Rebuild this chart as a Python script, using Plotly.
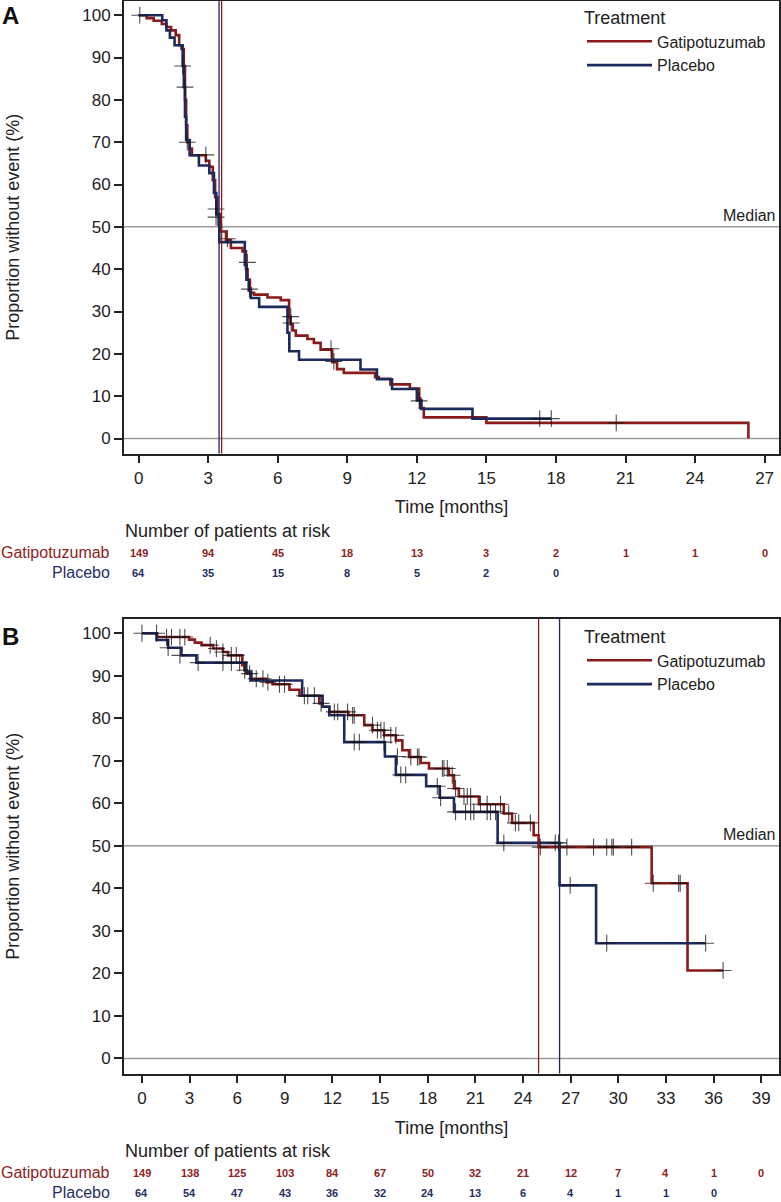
import plotly.graph_objects as go

W, H = 781, 1202
FONT = "Liberation Sans, Arial, Helvetica, sans-serif"
RED = "#8b1a1a"
NAVY = "#1c2a5c"
RED_TXT = "#8e2222"
NAVY_TXT = "#1f2f63"
GRID = "#9a9a9a"

# ---------------- Panel A ----------------
a_gat_t = [0, 0.35, 0.65, 1.0, 1.2, 1.4, 1.6, 1.75, 1.85, 1.95, 2.0, 2.05, 2.1, 2.2, 2.3,
           2.9, 3.05, 3.2, 3.3, 3.4, 3.5, 3.55, 3.77, 3.98, 4.48, 4.63, 4.7, 4.8, 4.84, 4.98,
           5.56, 6.13, 6.49, 6.55, 6.65, 6.78, 7.28, 7.56, 7.85, 8.35, 8.56, 8.85, 10.2, 10.36,
           10.86, 11.7, 12.1, 12.15, 12.3, 15.0, 26.3]
a_gat_s = [100, 99.3, 98.7, 97.9, 97.2, 96.4, 95.3, 92.9, 92.0, 88.0, 80.0, 74.0, 70.0, 68.5, 66.9,
           65.6, 64.2, 61.0, 57.0, 53.0, 50.5, 48.9, 46.9, 45.0, 44.2, 40.0, 37.5, 35.5, 34.4, 34.0,
           33.3, 32.7, 28.5, 27.0, 25.5, 24.3, 23.5, 22.6, 21.0, 18.0, 16.4, 15.5, 14.5, 14.1,
           12.8, 11.8, 9.5, 7.2, 5.0, 3.7, 0.0]
a_pla_t = [0, 1.02, 1.2, 1.35, 1.55, 1.9, 1.95, 2.0, 2.05, 2.2, 2.6, 3.05, 3.25, 3.35, 3.45, 3.48,
           4.58, 4.65, 4.75, 4.84, 5.2, 6.42, 6.5, 6.92, 9.57, 10.28, 10.93, 12.0, 12.2, 14.4]
a_pla_s = [100, 98.8, 96.4, 94.7, 92.9, 88.0, 83.0, 76.0, 70.5, 66.9, 64.5, 62.7, 58.0, 53.0, 50.5, 46.4,
           41.0, 37.5, 35.0, 33.2, 31.1, 25.0, 20.6, 18.6, 16.3, 14.0, 11.7, 9.0, 7.0, 4.7]
a_pla_end = 17.8
a_gat_cens_t = [0.05, 2.9, 3.83, 4.69, 4.78, 6.56, 6.58, 8.3, 8.42, 12.1, 20.6]
a_gat_cens_s = [100, 67.0, 47.2, 41.6, 35.3, 28.8, 27.3, 21.2, 18.2, 8.9, 3.7]
a_pla_cens_t = [1.9, 2.0, 2.1, 3.34, 3.34, 17.3, 17.8]
a_pla_cens_s = [88.0, 83.0, 70.0, 54.2, 52.3, 4.7, 4.7]
a_median_gat = 3.58
a_median_pla = 3.47
a_ticks = [0, 3, 6, 9, 12, 15, 18, 21, 24, 27]
a_risk_gat = [149, 94, 45, 18, 13, 3, 2, 1, 1, 0]
a_risk_pla = [64, 35, 15, 8, 5, 2, 0]

# ---------------- Panel B ----------------
b_gat_t = [0, 0.96, 2.97, 3.33, 3.75, 4.48, 5.10, 5.42, 6.32, 6.45, 6.6, 6.88, 7.83, 8.24, 9.29,
           9.92, 11.17, 11.38, 11.8, 13.0, 14.0, 14.52, 15.25, 15.99, 16.4, 16.82, 17.56, 18.08,
           19.33, 19.65, 19.96, 21.22, 22.79, 23.31, 24.67, 24.98, 32.1, 34.36]
b_gat_s = [100, 99.1, 98.5, 97.8, 97.2, 96.4, 95.6, 94.8, 92.5, 91.3, 90.5, 89.3, 88.5, 88.0, 86.7,
           85.3, 83.5, 82.7, 81.5, 80.7, 78.4, 77.2, 76.0, 74.8, 72.5, 70.9, 69.5, 68.2,
           66.6, 63.5, 61.6, 59.8, 57.6, 55.4, 52.5, 49.7, 41.2, 20.7]
b_gat_end = 36.6
b_pla_t = [0, 0.92, 1.65, 2.49, 3.43, 6.57, 6.88, 10.09, 11.38, 11.8, 12.74, 15.3, 15.99,
           17.9, 18.75, 19.65, 22.4, 26.3, 28.6]
b_pla_s = [100, 98.4, 96.6, 94.8, 93.1, 90.9, 88.9, 85.3, 82.7, 80.7, 74.4, 71.0, 66.7,
           64.0, 61.3, 58.0, 50.7, 40.7, 27.1]
b_pla_end = 35.5
b_gat_cens_t = [0.0, 0.92, 1.55, 1.86, 2.39, 2.70, 4.3, 4.69, 5.10, 5.63, 5.94, 6.47, 6.78, 7.2,
                7.62, 7.93, 8.66, 8.98, 10.23, 10.44, 10.86, 11.28, 12.12, 12.33, 12.95, 13.27,
                13.37, 14.52, 14.83, 15.05, 15.25, 15.67, 15.99, 16.93, 17.35, 17.45, 18.92,
                19.02, 19.23, 19.54, 19.75, 20.28, 20.49, 20.7, 21.32, 21.74, 22.58, 23.1, 23.52,
                23.73, 24.46, 25.09, 26.76, 28.44, 29.27, 29.59, 29.69, 30.84, 32.2, 33.8, 33.9,
                36.6]
b_gat_cens_s = [100, 100, 99.1, 99.1, 99.1, 99.1, 97.2, 96.4, 95.6, 94.8, 94.8, 91.3, 90.5, 89.3,
                89.3, 88.5, 88.0, 88.0, 85.3, 85.3, 85.3, 83.5, 81.5, 81.5, 81.5, 80.7,
                80.7, 78.4, 77.2, 77.2, 77.2, 76.0, 76.0, 70.9, 70.9, 70.9, 68.2,
                68.2, 68.2, 66.6, 63.5, 61.6, 61.6, 61.6, 59.8, 59.8, 59.8, 57.6, 55.4,
                55.4, 55.4, 49.7, 49.7, 49.7, 49.7, 49.7, 49.7, 49.7, 41.2, 41.2, 41.2,
                20.7]
b_pla_cens_t = [1.65, 2.39, 3.54, 5.10, 5.63, 6.15, 13.37, 13.69, 15.25, 16.09, 16.3, 16.61,
                18.6, 18.81, 19.75, 20.38, 20.7, 20.9, 21.74, 21.95, 22.27, 22.79, 26.03, 26.24,
                26.97, 29.27, 35.5]
b_pla_cens_s = [96.6, 94.8, 93.1, 93.1, 93.1, 93.1, 74.4, 74.4, 74.4, 71.0, 66.7, 66.7,
                64.0, 61.3, 58.0, 58.0, 58.0, 58.0, 58.0, 58.0, 58.0, 50.7, 50.7, 50.7,
                40.7, 27.1, 27.1]
b_median_gat = 24.98
b_median_pla = 26.3
b_ticks = [0, 3, 6, 9, 12, 15, 18, 21, 24, 27, 30, 33, 36, 39]
b_risk_gat = [149, 138, 125, 103, 84, 67, 50, 32, 21, 12, 7, 4, 1, 0]
b_risk_pla = [64, 54, 47, 43, 36, 32, 24, 13, 6, 4, 1, 1, 0]

y_ticks = [0, 10, 20, 30, 40, 50, 60, 70, 80, 90, 100]
groups = ["Gatipotuzumab", "Placebo"]


def py(p):
    return 1 - p / H


def px(p):
    return p / W


fig = go.Figure()


def add_panel(xa, ya, leg, gt, gs, gend, pt, ps, pend, gct, gcs, pct, pcs):
    gx = list(gt) + ([gend] if gend is not None else [])
    gy = list(gs) + ([gs[-1]] if gend is not None else [])
    pxs = list(pt) + ([pend] if pend is not None else [])
    pys = list(ps) + ([ps[-1]] if pend is not None else [])
    fig.add_trace(go.Scatter(x=gx, y=gy, mode="lines", line=dict(color=RED, width=2.6, shape="hv"),
                             name=groups[0], xaxis=xa, yaxis=ya, legend=leg))
    fig.add_trace(go.Scatter(x=pxs, y=pys, mode="lines", line=dict(color=NAVY, width=2.6, shape="hv"),
                             name=groups[1], xaxis=xa, yaxis=ya, legend=leg))
    for ct, cs in ((gct, gcs), (pct, pcs)):
        fig.add_trace(go.Scatter(x=ct, y=cs, mode="markers", showlegend=False, xaxis=xa, yaxis=ya,
                                 marker=dict(symbol="cross-thin", size=12,
                                             line=dict(color="rgba(20,20,20,0.75)", width=1.1)),
                                 hoverinfo="skip"))


add_panel("x", "y", "legend", a_gat_t, a_gat_s, None, a_pla_t, a_pla_s, a_pla_end,
          a_gat_cens_t, a_gat_cens_s, a_pla_cens_t, a_pla_cens_s)
add_panel("x2", "y2", "legend2", b_gat_t, b_gat_s, b_gat_end, b_pla_t, b_pla_s, b_pla_end,
          b_gat_cens_t, b_gat_cens_s, b_pla_cens_t, b_pla_cens_s)

xdom = [px(124), px(779)]
axis_common = dict(showline=True, mirror=True, linecolor="#222", linewidth=1.8, ticks="outside",
                   ticklen=8, tickwidth=1.5, tickcolor="#222", showgrid=False, zeroline=False,
                   tickfont=dict(family=FONT, size=17, color="#222"))
ycommon = dict(axis_common, range=[-3.54, 103.35], tickvals=y_ticks,
               title=dict(text="Proportion without event (%)", font=dict(family=FONT, size=18, color="#222"),
                          standoff=58))
legend_common = dict(xanchor="left", yanchor="top", bgcolor="rgba(0,0,0,0)",
                     title=dict(text="Treatment", side="top", font=dict(family=FONT, size=18, color="#222")),
                     font=dict(family=FONT, size=16, color="#222"), itemwidth=65, tracegroupgap=0)

fig.update_layout(
    width=W, height=H, margin=dict(l=0, r=0, t=0, b=0),
    paper_bgcolor="white", plot_bgcolor="white",
    font=dict(family=FONT, color="#222"),
    xaxis=dict(axis_common, domain=xdom, range=[-0.63, 27.62], tickvals=a_ticks, anchor="y",
               title=dict(text="Time [months]", font=dict(family=FONT, size=18, color="#222"), standoff=14)),
    yaxis=dict(ycommon, domain=[py(453.5), py(1)], anchor="x"),
    xaxis2=dict(axis_common, domain=xdom, range=[-1.13, 40.12], tickvals=b_ticks, anchor="y2",
                title=dict(text="Time [months]", font=dict(family=FONT, size=18, color="#222"), standoff=15)),
    yaxis2=dict(ycommon, domain=[py(1073.5), py(619)], anchor="x2"),
    legend=dict(legend_common, x=px(582), y=py(1)),
    legend2=dict(legend_common, x=px(582), y=py(620)),
    showlegend=True,
)

shapes = []
anns = []
for xa, ya, mg, mp in (("x", "y", a_median_gat, a_median_pla), ("x2", "y2", b_median_gat, b_median_pla)):
    for yv in (50, 0):
        shapes.append(dict(type="line", xref=f"{xa} domain", x0=0, x1=1, yref=ya, y0=yv, y1=yv,
                           line=dict(color=GRID, width=1.5), layer="below"))
    shapes.append(dict(type="line", xref=xa, x0=mg, x1=mg, yref=f"{ya} domain", y0=0, y1=1,
                       line=dict(color=RED, width=1.3)))
    shapes.append(dict(type="line", xref=xa, x0=mp, x1=mp, yref=f"{ya} domain", y0=0, y1=1,
                       line=dict(color=NAVY, width=1.3)))
    anns.append(dict(text="Median", xref="paper", x=px(777), xanchor="right", yref=ya, y=50,
                     yanchor="bottom", yshift=1, showarrow=False, font=dict(family=FONT, size=16, color="#222")))

anns.append(dict(text="<b>A</b>", xref="paper", yref="paper", x=0, xanchor="left", y=py(16),
                 yanchor="middle", showarrow=False, font=dict(family=FONT, size=24, color="#111")))
anns.append(dict(text="<b>B</b>", xref="paper", yref="paper", x=0, xanchor="left", y=py(636),
                 yanchor="middle", showarrow=False, font=dict(family=FONT, size=24, color="#111")))

for xa, ticks, rg, rp, base in (("x", a_ticks, a_risk_gat, a_risk_pla, 453.5),
                                 ("x2", b_ticks, b_risk_gat, b_risk_pla, 1073.5)):
    anns.append(dict(text="Number of patients at risk", xref="paper", x=px(123), xanchor="left",
                     yref="paper", y=py(base + 77), yanchor="middle", showarrow=False,
                     font=dict(family=FONT, size=18, color="#222")))
    anns.append(dict(text=groups[0], xref="paper", x=px(112), xanchor="right", yref="paper",
                     y=py(base + 99), yanchor="middle", showarrow=False,
                     font=dict(family=FONT, size=16, color=RED_TXT)))
    anns.append(dict(text=groups[1], xref="paper", x=px(112), xanchor="right", yref="paper",
                     y=py(base + 119), yanchor="middle", showarrow=False,
                     font=dict(family=FONT, size=16, color=NAVY_TXT)))
    for t, v in zip(ticks, rg):
        anns.append(dict(text=f"<b>{v}</b>", xref=xa, x=t, yref="paper", y=py(base + 99), yanchor="middle",
                         showarrow=False, font=dict(family=FONT, size=11, color=RED_TXT)))
    for t, v in zip(ticks, rp):
        anns.append(dict(text=f"<b>{v}</b>", xref=xa, x=t, yref="paper", y=py(base + 119), yanchor="middle",
                         showarrow=False, font=dict(family=FONT, size=11, color=NAVY_TXT)))

fig.update_layout(shapes=shapes, annotations=anns)
fig.write_html("out.html", config={"displayModeBar": False},
               post_script="document.body.style.margin='0';document.body.style.overflow='hidden';"
                           "document.documentElement.style.overflow='hidden';")
